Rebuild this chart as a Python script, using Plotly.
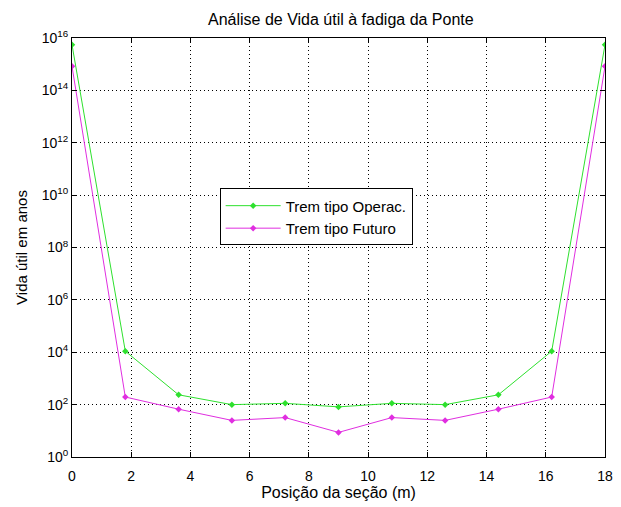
import plotly.graph_objects as go

posicao = [0, 1.8, 3.6, 5.4, 7.2, 9.0, 10.8, 12.6, 14.4, 16.2, 18]
vida_operac = [5.5e15, 1.1e4, 237, 100, 112, 82, 112, 100, 237, 1.1e4, 5.5e15]
vida_futuro = [8.3e14, 195, 67, 25, 32, 8.7, 32, 25, 67, 195, 8.3e14]
x_ticks = [0, 2, 4, 6, 8, 10, 12, 14, 16, 18]
y_tick_exponents = [0, 2, 4, 6, 8, 10, 12, 14, 16]

font_family = "Liberation Sans, Arial, sans-serif"
green = "#2ee02e"
magenta = "#e02ee0"

fig = go.Figure()
fig.add_trace(go.Scatter(
    x=posicao, y=vida_operac, mode="lines+markers", name="Trem tipo Operac.",
    line=dict(color=green, width=1),
    marker=dict(symbol="diamond", size=5, color=green),
))
fig.add_trace(go.Scatter(
    x=posicao, y=vida_futuro, mode="lines+markers", name="Trem tipo Futuro",
    line=dict(color=magenta, width=1),
    marker=dict(symbol="diamond", size=5, color=magenta),
))

axis_common = dict(
    showline=True, linecolor="black", linewidth=1, mirror="ticks",
    ticks="inside", ticklen=5, tickcolor="black",
    showgrid=True, gridcolor="black", griddash="1px,3px", gridwidth=1,
    zeroline=False, tickfont=dict(size=14, color="black", family=font_family),
)

fig.update_layout(
    width=613, height=499,
    paper_bgcolor="white", plot_bgcolor="white",
    margin=dict(l=64, r=8, t=30, b=45),
    font=dict(family=font_family, size=14, color="black"),
    title=dict(text="Análise de Vida útil à fadiga da Ponte", x=0.543, xanchor="center",
               y=0.977, yanchor="middle", font=dict(size=16, color="black")),
    showlegend=True,
    legend=dict(x=0.277, y=0.641, xanchor="left", yanchor="top",
                bgcolor="white", bordercolor="black", borderwidth=1,
                itemwidth=55,
                font=dict(size=15, color="black"), tracegroupgap=0),
    xaxis=dict(range=[0, 18], tickvals=x_ticks, ticklabelstandoff=6,
               title=dict(text="Posição da seção (m)", standoff=4, font=dict(size=16)),
               **axis_common),
    yaxis=dict(type="log", range=[0, 16],
               tickvals=[10 ** e for e in y_tick_exponents],
               ticktext=[f"10<sup>{e}</sup>" for e in y_tick_exponents],
               title=dict(text="Vida útil em anos", standoff=10, font=dict(size=15)),
               **axis_common),
)

fig.write_html("out.html")
